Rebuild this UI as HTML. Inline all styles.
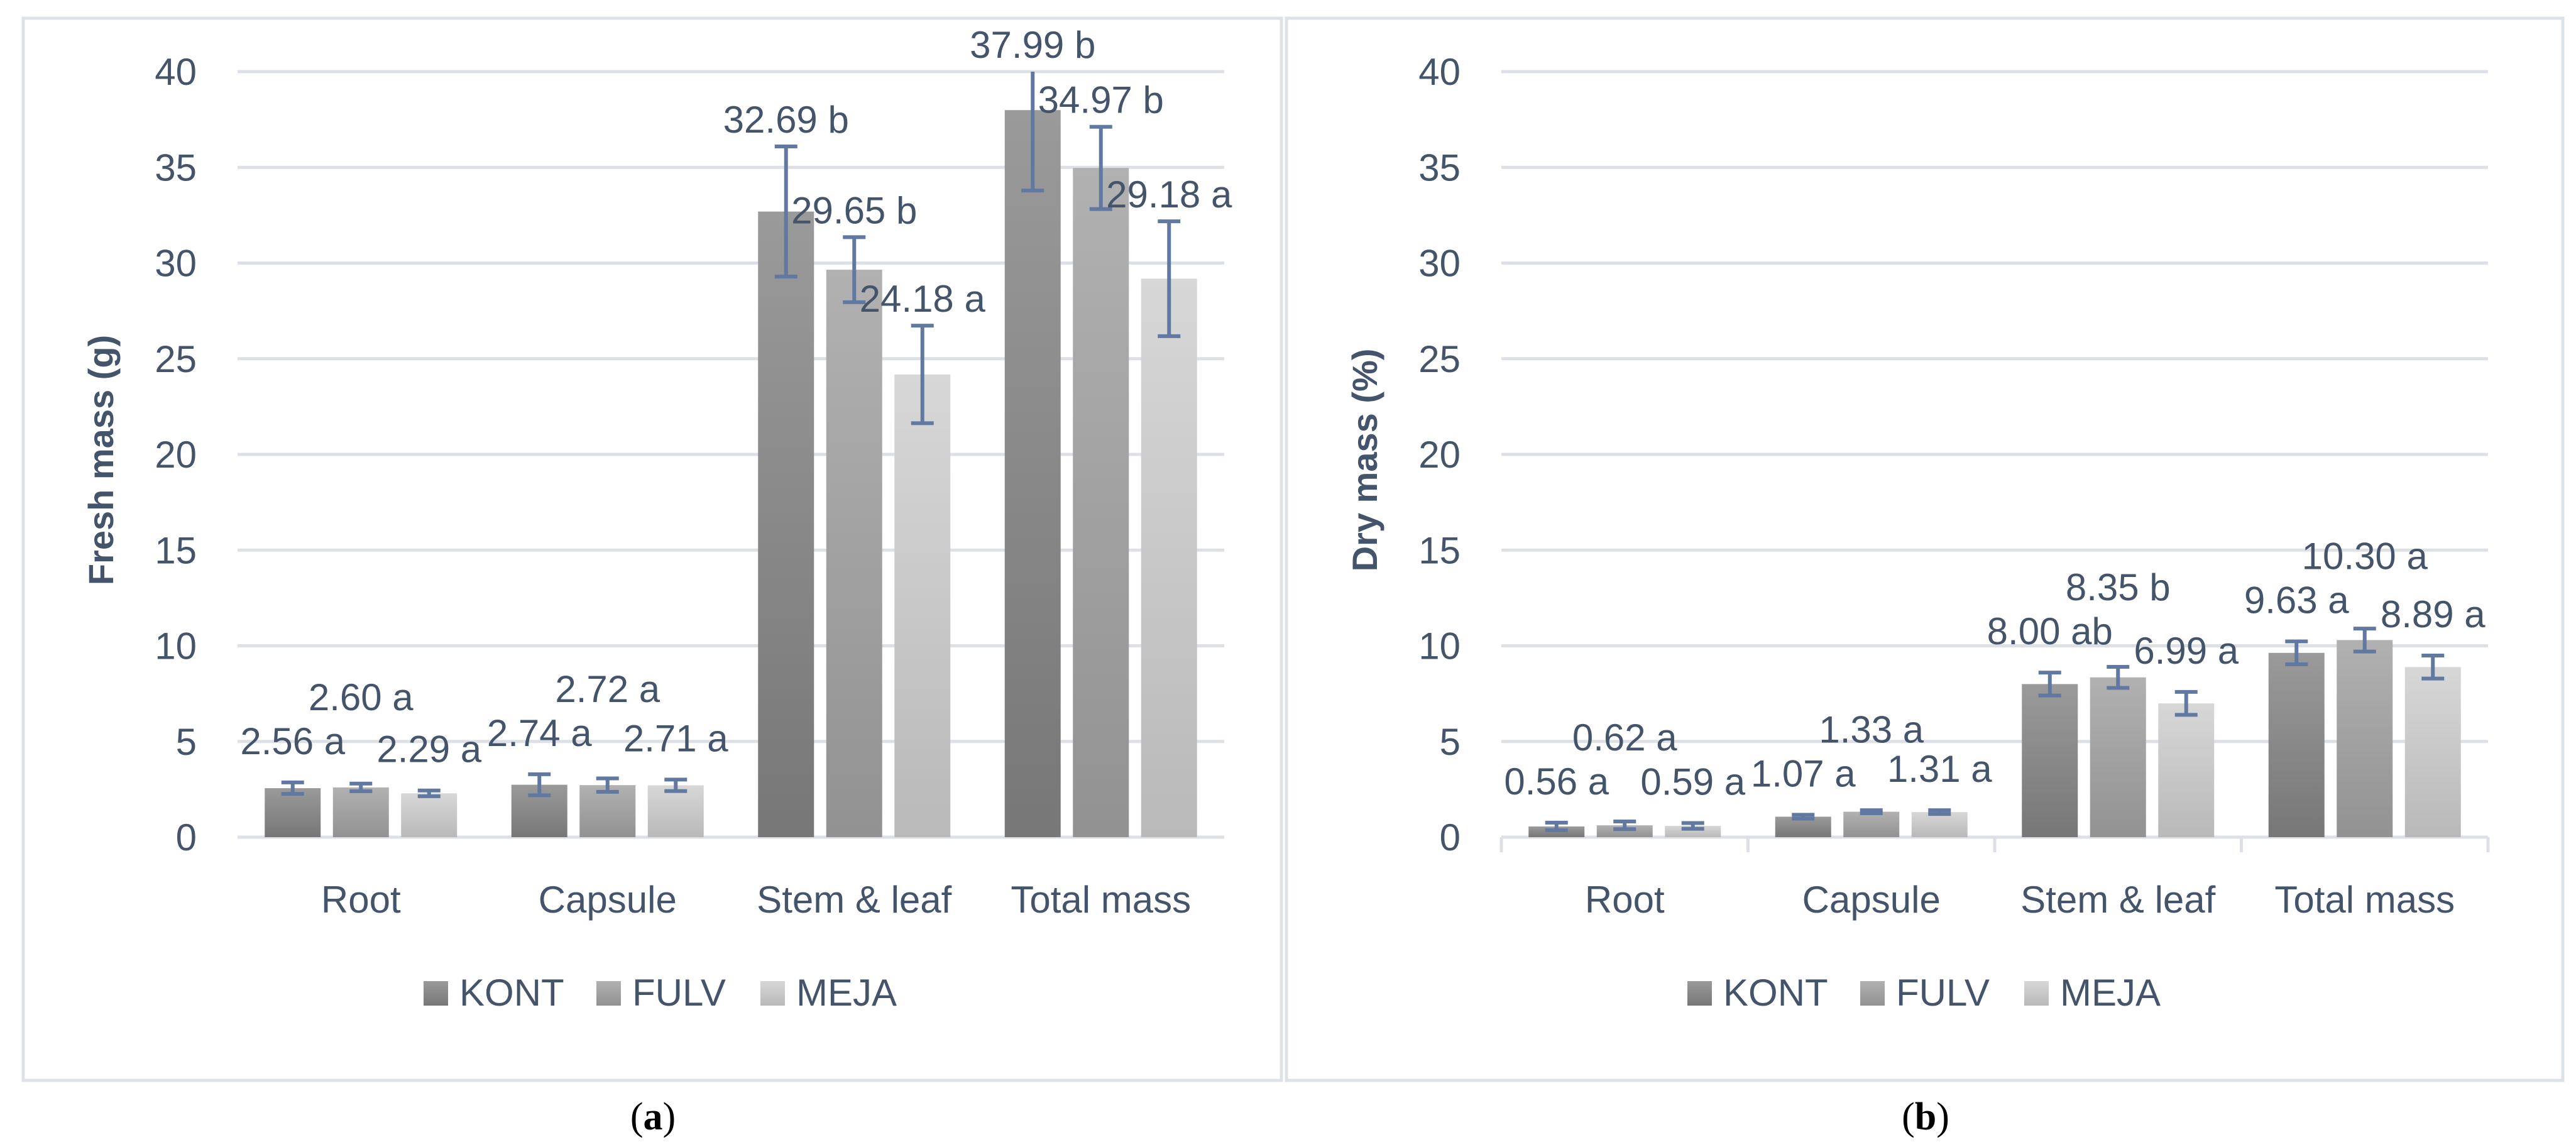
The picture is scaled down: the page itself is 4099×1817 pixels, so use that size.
<!DOCTYPE html>
<html><head><meta charset="utf-8">
<style>
html,body{margin:0;padding:0;background:#fff;}
svg{display:block;}
text{font-family:"Liberation Sans",sans-serif;fill:#44546a;}
</style></head>
<body>
<svg id="fig" width="4099" height="1817" viewBox="0 0 4099 1817" xmlns="http://www.w3.org/2000/svg">
<defs>
<linearGradient id="gK" x1="0" y1="0" x2="0" y2="1"><stop offset="0" stop-color="#9a9a9a"/><stop offset="1" stop-color="#777777"/></linearGradient>
<linearGradient id="gF" x1="0" y1="0" x2="0" y2="1"><stop offset="0" stop-color="#b1b1b1"/><stop offset="1" stop-color="#929292"/></linearGradient>
<linearGradient id="gM" x1="0" y1="0" x2="0" y2="1"><stop offset="0" stop-color="#d7d7d7"/><stop offset="1" stop-color="#b9b9b9"/></linearGradient>
</defs>
</svg>
<script>
const categories = ["Root", "Capsule", "Stem & leaf", "Total mass"];
const seriesNames = ["KONT", "FULV", "MEJA"];
const yTicks = [0, 5, 10, 15, 20, 25, 30, 35, 40];
// Fresh mass (g)
const freshKONT = [2.56, 2.74, 32.69, 37.99];
const freshFULV = [2.60, 2.72, 29.65, 34.97];
const freshMEJA = [2.29, 2.71, 24.18, 29.18];
const freshErrKONT = [0.3, 0.55, 3.4, 4.2];
const freshErrFULV = [0.2, 0.35, 1.7, 2.15];
const freshErrMEJA = [0.15, 0.3, 2.55, 3.0];
const freshLetters = [["a","a","b","b"],["a","a","b","b"],["a","a","a","a"]];
// Dry mass (%)
const dryKONT = [0.56, 1.07, 8.00, 9.63];
const dryFULV = [0.62, 1.33, 8.35, 10.30];
const dryMEJA = [0.59, 1.31, 6.99, 8.89];
const dryErrKONT = [0.2, 0.1, 0.6, 0.6];
const dryErrFULV = [0.2, 0.08, 0.55, 0.6];
const dryErrMEJA = [0.15, 0.1, 0.6, 0.6];
const dryLetters = [["a","a","ab","a"],["a","a","b","a"],["a","a","a","a"]];

const NS = "http://www.w3.org/2000/svg";
const svg = document.getElementById("fig");
function el(tag, attrs, parent, txt){
  const e = document.createElementNS(NS, tag);
  for (const k in attrs) e.setAttribute(k, attrs[k]);
  if (txt !== undefined) e.textContent = txt;
  (parent || svg).appendChild(e);
  return e;
}
const grads = ["url(#gK)", "url(#gF)", "url(#gM)"];

function drawPanel(cfg){
  const g = el("g", {});
  
  
  const frame = el("rect", {x: cfg.fx, y: 29, width: cfg.fw, height: 1690, fill: "none", stroke: "#dde2e8", "stroke-width": 5}, g);
  
  
  const X0 = cfg.px, W = 1570, Y0 = 1332, Ymax = 40, H = 1332 - 114;
  const yS = v => Y0 - Math.min(v, Ymax) / Ymax * H;
  const catW = W / categories.length;
  const barW = 89, step = 108.5;
  // gridlines + ticks
  yTicks.forEach(t => {
    const ln = el("line", {x1: X0, x2: X0 + W, y1: yS(t), y2: yS(t), stroke: "#dde1e7", "stroke-width": 5}, g);
    
    
    const tl = el("text", {x: X0 - 65, y: yS(t) + 21, "text-anchor": "end", "font-size": 60}, g, String(t));
    
    
  });
  if (cfg.axisTicks) {
    for (let i = 0; i <= categories.length; i++) {
      const tk = el("line", {x1: X0 + i * catW, x2: X0 + i * catW, y1: Y0, y2: Y0 + 24, stroke: "#dde1e7", "stroke-width": 5}, g);
      
      
    }
  }
  // y title
  const yt = el("text", {x: X0 - 198, y: 732, "text-anchor": "middle", "font-size": 56, "font-weight": "bold", transform: `rotate(-90 ${X0 - 198} 732)`}, g, cfg.ytitle);
  
  
  const seriesVals = cfg.vals, seriesErr = cfg.errs;
  categories.forEach((c, ci) => {
    const gx = X0 + ci * catW + catW / 2;
    const cl = el("text", {x: gx, y: 1452, "text-anchor": "middle", "font-size": 60}, g, c);
    
    
    const placed = [];
    for (let si = 0; si < 3; si++) {
      const v = seriesVals[si][ci], e = seriesErr[si][ci];
      const cx = gx + (si - 1) * step;
      const b = el("rect", {x: cx - barW / 2, y: yS(v), width: barW, height: Y0 - yS(v), fill: grads[si]}, g);
      
      
      const top = yS(v + e), bot = yS(v - e);
      const eb = el("line", {x1: cx, x2: cx, y1: top, y2: bot, stroke: "#6179a0", "stroke-width": 6}, g);
      
      
      if (v + e <= Ymax) {
        const c1 = el("line", {x1: cx - 18, x2: cx + 18, y1: top, y2: top, stroke: "#6179a0", "stroke-width": 6}, g);
        
        
      }
      const c2 = el("line", {x1: cx - 18, x2: cx + 18, y1: bot, y2: bot, stroke: "#6179a0", "stroke-width": 6}, g);
      
      
      // label placement with simple collision avoidance
      let base = top - (v < 12 ? 45 : 22);
      for (const p of placed) {
        if (Math.abs(p.x - cx) < 175 && Math.abs(p.y - base) < 62) base = p.y - 70;
      }
      placed.push({x: cx, y: base});
      const lt = el("text", {x: cx, y: base, "text-anchor": "middle", "font-size": 60}, g, v.toFixed(2) + " " + cfg.letters[si][ci]);
      
      
    }
  });
  // legend
  const legX = [X0 + 296, X0 + 571, X0 + 832];
  seriesNames.forEach((s, si) => {
    const sq = el("rect", {x: legX[si], y: 1561, width: 39, height: 39, fill: grads[si]}, g);
    
    
    const lt = el("text", {x: legX[si] + 57, y: 1600, "font-size": 60}, g, s);
    
    
  });
  const cap = el("text", {x: cfg.capX, y: 1797, "text-anchor": "middle", "font-size": 62, style: "font-family:'Liberation Serif',serif;fill:#000"}, g);
  
  
  el("tspan", {}, cap, "(");
  el("tspan", {"font-weight": "bold"}, cap, cfg.capLetter);
  el("tspan", {}, cap, ")");
}

drawPanel({name: "fresh-mass-chart", fx: 37, fw: 2002, px: 378, ytitle: "Fresh mass (g)",
  vals: [freshKONT, freshFULV, freshMEJA], errs: [freshErrKONT, freshErrFULV, freshErrMEJA],
  letters: freshLetters, axisTicks: false, capX: 1039, capLetter: "a"});
drawPanel({name: "dry-mass-chart", fx: 2047, fw: 2031, px: 2389, ytitle: "Dry mass (%)",
  vals: [dryKONT, dryFULV, dryMEJA], errs: [dryErrKONT, dryErrFULV, dryErrMEJA],
  letters: dryLetters, axisTicks: true, capX: 3064, capLetter: "b"});
</script>
</body></html>
